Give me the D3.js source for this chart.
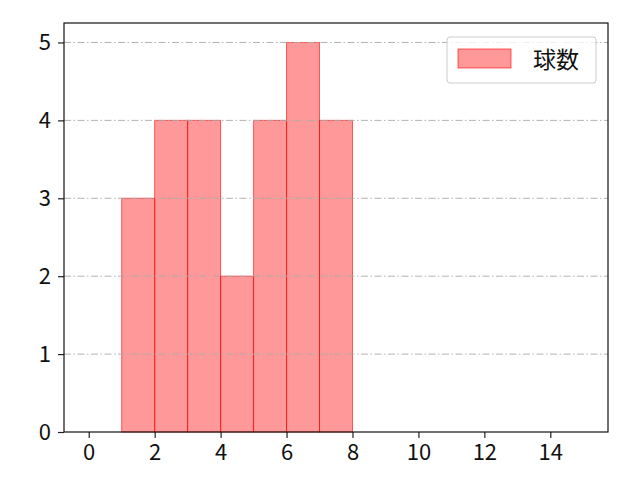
<!DOCTYPE html>
<html>
<head>
<meta charset="utf-8">
<script src="https://cdn.jsdelivr.net/npm/d3@7"></script>
<style>
  body { margin: 0; background: #fff; }
  text { font-family: "Noto Sans CJK JP", "Noto Sans", sans-serif; }
</style>
</head>
<body>
<div id="chart"></div>
<script>
// histogram bins and counts
const binStarts = [1, 2, 3, 4, 5, 6, 7];
const counts = [3, 4, 4, 2, 4, 5, 4];
const xTicks = [0, 2, 4, 6, 8, 10, 12, 14];
const yTicks = [0, 1, 2, 3, 4, 5];
const seriesName = "球数";

const W = 640, H = 480;
const margin = { top: 23, right: 32, bottom: 48, left: 64 };
const width = W - margin.left - margin.right,
  height = H - margin.top - margin.bottom;

const svg = d3.select("#chart")
  .append("svg")
  .attr("width", W)
  .attr("height", H)
  .append("g")
  .attr("transform", "translate(" + margin.left + "," + margin.top + ")");

const x = d3.scaleLinear().domain([-0.75, 15.75]).range([0, width]);
const y = d3.scaleLinear().domain([0, 5.25]).range([height, 0]);

// bars
svg.selectAll("rect.bar")
  .data(binStarts)
  .enter()
  .append("rect")
  .attr("class", "bar")
  .attr("x", function (d) { return x(d); })
  .attr("y", function (d, i) { return y(counts[i]); })
  .attr("width", function (d) { return x(d + 1) - x(d); })
  .attr("height", function (d, i) { return y(0) - y(counts[i]); })
  .style("fill", "rgba(255,0,0,0.4)")
  .style("stroke", "rgba(255,0,0,0.6)")
  .style("stroke-width", 1);

// horizontal grid (dash-dot)
svg.selectAll("line.grid")
  .data(yTicks.slice(1))
  .enter()
  .append("line")
  .attr("class", "grid")
  .attr("x1", 0)
  .attr("x2", width)
  .attr("y1", function (d) { return y(d); })
  .attr("y2", function (d) { return y(d); })
  .style("stroke", "#aaaaaa")
  .style("stroke-width", 0.9)
  .style("stroke-dasharray", "7,2.5,1.5,2.5");

// axes
const xAxis = svg.append("g")
  .attr("transform", "translate(0," + height + ")")
  .call(d3.axisBottom(x).tickValues(xTicks).tickSize(6).tickPadding(6).tickFormat(d3.format("d")));
const yAxis = svg.append("g")
  .call(d3.axisLeft(y).tickValues(yTicks).tickSize(6).tickPadding(7).tickFormat(d3.format("d")));
[xAxis, yAxis].forEach(function (a) {
  a.select(".domain").remove();
  a.selectAll("line").style("stroke", "#222").style("stroke-width", 1.2);
  a.selectAll("text").style("font-size", "22px").style("fill", "#111")
    .style("font-family", "'Noto Sans CJK JP', sans-serif");
});

// frame
svg.append("rect")
  .attr("width", width)
  .attr("height", height)
  .style("fill", "none")
  .style("stroke", "#111")
  .style("stroke-width", 1.2);

// legend
const legend = svg.append("g").attr("transform", "translate(" + (width - 161) + ",14)");
legend.append("rect")
  .attr("width", 149).attr("height", 46).attr("rx", 3)
  .style("fill", "rgba(255,255,255,0.8)")
  .style("stroke", "#ccc");
legend.append("rect")
  .attr("x", 11).attr("y", 12).attr("width", 53).attr("height", 19)
  .style("fill", "rgba(255,0,0,0.4)")
  .style("stroke", "rgba(255,0,0,0.6)");
legend.append("text")
  .attr("x", 86).attr("y", 23)
  .attr("dy", "0.35em")
  .style("font-size", "23px")
  .style("fill", "#111")
  .text(seriesName);
</script>
</body>
</html>
